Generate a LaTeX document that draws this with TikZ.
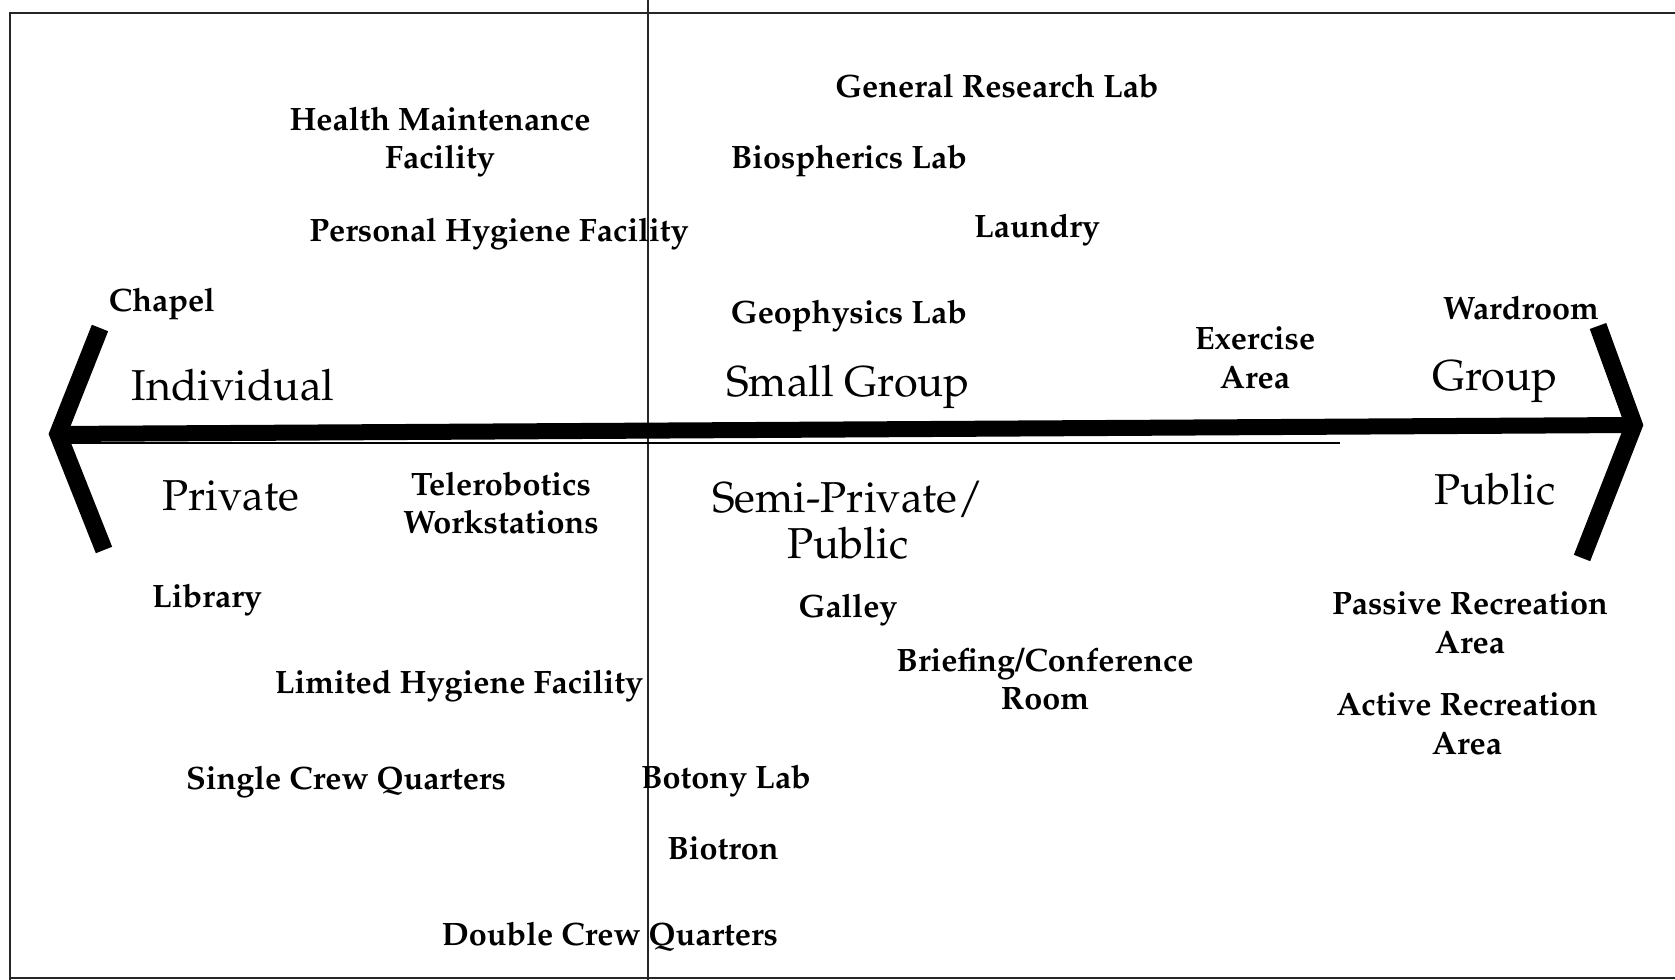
\documentclass[tikz,border=0pt]{standalone}
\usepackage[T1]{fontenc}
\usepackage{mathpazo}
\usepackage{tikz}
\usetikzlibrary{positioning}

\begin{document}
\begin{tikzpicture}[
  x=0.01cm, y=-0.01cm,
  room/.style={font=\fontsize{9.2}{10.9}\selectfont\bfseries,align=center,inner sep=0pt},
  zone/.style={font=\fontsize{12.3}{13}\selectfont,align=center,inner sep=0pt},
  frm/.style={line width=0.6pt,black!85},
  shaft/.style={line width=1.6mm},
  trail/.style={line width=0.8pt},
  chev/.style={line width=1.75mm,line join=miter}
]
\useasboundingbox (0,0) rectangle (1675,980);

% ---------------- frame and divider ----------------
\draw[frm] (1675,13) -- (10,13) -- (10,980);
\draw[frm] (10,978) -- (1675,978);
\draw[frm] (648,0) -- (648,980);

% ---------------- double-headed axis ----------------
\coordinate (ltip) at (58,434);
\coordinate (lup)  at (100,328);
\coordinate (ldn)  at (104,550);
\coordinate (rtip) at (1634,425);
\coordinate (rup)  at (1598,326);
\coordinate (rdn)  at (1582,558);
\coordinate (tend) at (1340,443);
\draw[shaft] (ltip) -- (rtip);
\draw[trail] (ltip |- tend) -- (tend);
\draw[chev] (lup) -- (ltip) -- (ldn);
\draw[chev] (rup) -- (rtip) -- (rdn);

% ---------------- zone names ----------------
\node[zone] (indiv)  at (233,385) {Individual};
\node[zone] (small)  at (848,387) {Small Group};
\node[zone] (group)  at (1495,382) {Group};
\node[zone] (priv)   at (231,496) {Private};
\node[zone] (semi)   at (848,520) {Semi-Private/\\Public};
\node[zone] (pub)    at (1495,489) {Public};

% ---------------- above the axis ----------------
\node[room] (genlab) at (997,86)   {General Research Lab};
\node[room] (health) at (440,142)  {Health Maintenance\\Facility};
\node[room] (biosph) at (849,161)  {Biospherics Lab};
\node[room] (hyg)    at (499,234)  {Personal Hygiene Facility};
\node[room] (laund)  at (1037,230) {Laundry};
\node[room] (chapel) at (162,304)  {Chapel};
\node[room] (geoph)  at (849,316)  {Geophysics Lab};
\node[room] (ward)   at (1521,308) {Wardroom};
\node[room] (exer)   at (1255,358) {Exercise\\Area};

% ---------------- below the axis ----------------
\node[room] (telero) at (501,503)  {Telerobotics\\Workstations};
\node[room] (lib)    at (207,600)  {Library};
\node[room] (galley) at (848,610)  {Galley};
\node[room] (passrec) at (1470,623) {Passive Recreation\\Area};
\node[room] (brief)  at (1045,679) {Briefing/Conference\\Room};
\node[room] (limhyg) at (459,686)  {Limited Hygiene Facility};
\node[room] (actrec) at (1467,724) {Active Recreation\\Area};
\node[room] (single) at (346,782)  {Single Crew Quarters};
\node[room] (botony) at (726,781)  {Botony Lab};
\node[room] (biotr)  at (723,848)  {Biotron};
\node[room] (double) at (610,937)  {Double Crew Quarters};
\end{tikzpicture}
\end{document}
